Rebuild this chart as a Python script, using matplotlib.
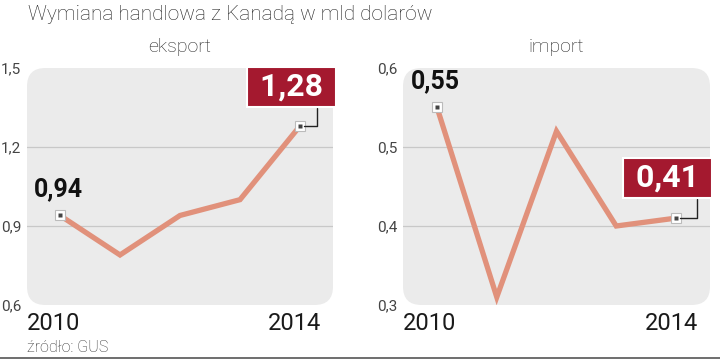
import matplotlib
matplotlib.use("Agg")
import matplotlib.pyplot as plt
from matplotlib.patches import FancyBboxPatch

years = [2010, 2011, 2012, 2013, 2014]
eksport = [0.94, 0.79, 0.94, 1.00, 1.28]
importv = [0.55, 0.31, 0.52, 0.40, 0.41]
eks_ticks = [0.6, 0.9, 1.2, 1.5]
imp_ticks = [0.3, 0.4, 0.5, 0.6]
title = "Wymiana handlowa z Kanadą w mld dolarów"
source = "źródło: GUS"

LINE = "#e1917b"
RED = "#a4192f"
BG = "#ebebeb"
GRID = "#c8c8c8"
plt.rcParams["font.family"] = ["Roboto", "DejaVu Sans"]

fig = plt.figure(figsize=(7.2, 3.59), dpi=100)
W, H = 720, 359


def ax_rect(x0, x1, y0, y1):
    return [x0 / W, 1 - y1 / H, (x1 - x0) / W, (y1 - y0) / H]


def fmt(v, d):
    return f"{v:.{d}f}".replace(".", ",")


def panel(rect, vals, ticks, name, xlim):
    ax = fig.add_axes(rect)
    ax.set_xlim(*xlim)
    ax.set_ylim(ticks[0], ticks[-1])
    ax.patch.set_visible(False)
    for s in ax.spines.values():
        s.set_visible(False)
    bg = FancyBboxPatch((0, 0), 1, 1, boxstyle="round,pad=0,rounding_size=0.06",
                        transform=ax.transAxes, facecolor=BG, edgecolor="none",
                        mutation_aspect=306 / 237, zorder=0, clip_on=False)
    ax.add_patch(bg)
    for t in ticks[1:-1]:
        ax.axhline(t, color=GRID, lw=0.9, zorder=1)
    ax.set_xticks([])
    ax.set_yticks(ticks)
    ax.set_yticklabels([fmt(t, 1) for t in ticks], fontsize=11, color="#444444")
    ax.tick_params(axis="y", length=0, pad=4)
    ax.plot(years, vals, color=LINE, lw=3.8, solid_joinstyle="miter", zorder=3)
    ax.text(0.5, 1.05, name, transform=ax.transAxes, ha="center", va="bottom",
            fontsize=14, color="#222222", fontweight="light")
    ax.text(0.0, -0.03, str(years[0]), transform=ax.transAxes, ha="left", va="top",
            fontsize=17, color="#1a1a1a")
    ax.text(0.96, -0.03, str(years[-1]), transform=ax.transAxes, ha="right", va="top",
            fontsize=17, color="#1a1a1a")
    for i in (0, len(years) - 1):
        ax.plot(years[i], vals[i], marker="s", ms=6.5, mfc="white", mec="#bbbbbb",
                mew=0.8, zorder=4)
        ax.plot(years[i], vals[i], marker="s", ms=3, mfc="#444444", mec="none", zorder=5)
    # first value label
    ax.annotate(fmt(vals[0], 2), (years[0], vals[0]), xytext=(-19, 10),
                textcoords="offset points", ha="left", va="bottom", fontsize=18,
                fontweight="bold", color="#111111")
    return ax


def red_label(ax, x, y, text, dx, dy, relx):
    ax.annotate(" " + text + " ", (x, y), xytext=(dx, dy), textcoords="offset points",
                ha="center", va="center", fontsize=23, fontweight="bold", color="white",
                bbox=dict(boxstyle="square,pad=0.16", fc=RED, ec="white", lw=1.5),
                arrowprops=dict(arrowstyle="-", color="#222222", lw=1, relpos=(relx, 0),
                                connectionstyle="angle,angleA=90,angleB=0,rad=0",
                                shrinkA=0, shrinkB=3),
                zorder=6)


eks_ax = panel(ax_rect(27, 333, 68, 305), eksport, eks_ticks, "eksport", (2009.45, 2014.55))
imp_ax = panel(ax_rect(403, 710, 68, 305), importv, imp_ticks, "import", (2009.43, 2014.57))

red_label(eks_ax, years[-1], eksport[-1], fmt(eksport[-1], 2), -6, 28, 0.82)
red_label(imp_ax, years[-1], importv[-1], fmt(importv[-1], 2), -6, 29, 0.87)

fig.text(28 / W, 1 - 15 / H, title, ha="left", va="center", fontsize=15, color="#222222",
         fontweight="light")
fig.text(27 / W, 1 - 347 / H, source, ha="left", va="center", fontsize=11.5,
         color="#333333", fontweight="light")
fig.add_artist(plt.Line2D([0, 1], [0.004, 0.004], color="#555555", lw=1.2))

fig.savefig("out.png", dpi=100)
